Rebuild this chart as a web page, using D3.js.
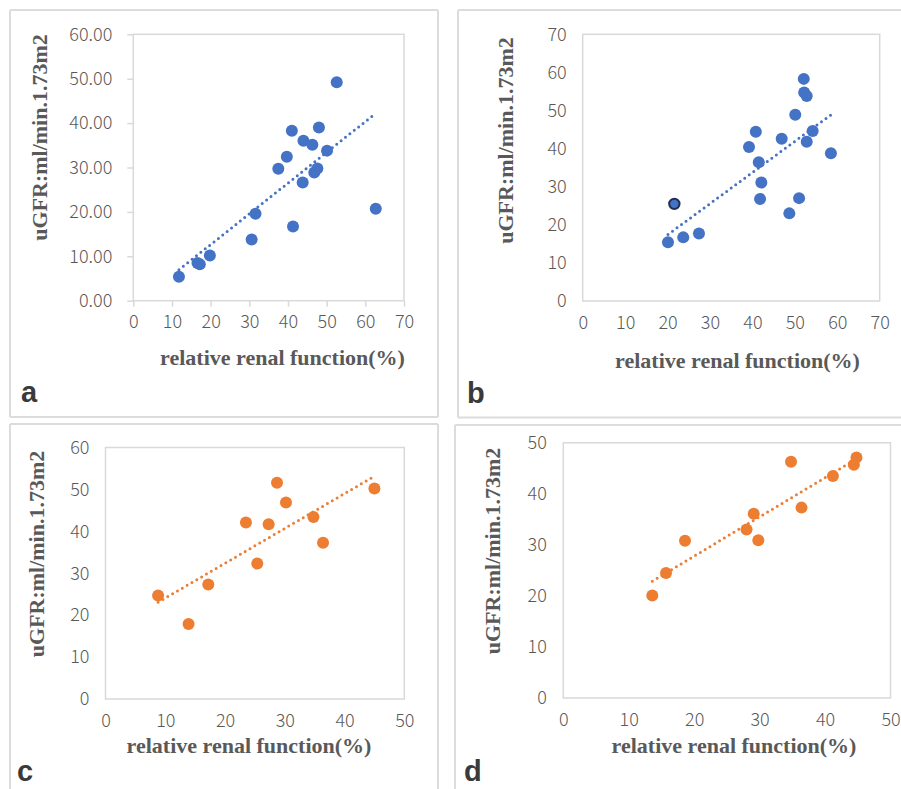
<!DOCTYPE html>
<html>
<head>
<meta charset="utf-8">
<script src="https://cdn.jsdelivr.net/npm/d3@7"></script>
<style>
  html, body { margin: 0; padding: 0; background: #fff; }
  svg { display: block; }
  .tick text { font-family: "Noto Sans CJK SC", "Noto Sans", sans-serif; font-weight: 300; fill: #595959; }
  .title { font-family: "Liberation Serif", "Times New Roman", serif; font-weight: bold; fill: #595959; font-size: 22px; }
  .letter { font-family: "Liberation Sans", Arial, sans-serif; font-weight: bold; fill: #3a3a3a; font-size: 29px; }
</style>
</head>
<body>
<svg id="fig"></svg>
<script>
const W = 901, H = 789;

// panel a (blue)
const aX = [11.8, 16.6, 17.2, 19.8, 30.6, 31.6, 41.3, 37.5, 39.7, 41.0, 43.8, 44.0, 46.3, 46.8, 47.6, 48.0, 50.1, 52.6, 62.7];
const aY = [5.4, 8.5, 8.2, 10.2, 13.8, 19.6, 16.7, 29.7, 32.4, 38.3, 26.6, 36.0, 35.1, 28.9, 29.8, 39.0, 33.8, 49.2, 20.7];
// panel b (blue), index 1 is the outlined point
const bX = [20.1, 21.6, 23.7, 27.4, 39.2, 40.8, 41.5, 42.1, 41.8, 46.9, 48.7, 50.1, 51.0, 52.1, 52.2, 52.8, 52.8, 54.2, 58.5];
const bY = [15.4, 25.5, 16.7, 17.7, 40.4, 44.4, 36.4, 31.1, 26.8, 42.6, 23.0, 48.9, 27.0, 58.3, 54.7, 53.8, 41.8, 44.6, 38.8];
const bMarked = [1];
// panel c (orange)
const cX = [8.8, 13.9, 17.2, 23.5, 25.4, 27.3, 28.7, 30.2, 34.8, 36.4, 45.0];
const cY = [24.7, 17.9, 27.3, 42.1, 32.3, 41.7, 51.6, 46.9, 43.4, 37.3, 50.2];
// panel d (orange)
const dX = [13.6, 15.7, 18.6, 28.0, 29.1, 29.8, 34.8, 36.4, 41.2, 44.4, 44.8];
const dY = [20.1, 24.5, 30.8, 33.0, 36.1, 30.9, 46.3, 37.3, 43.5, 45.7, 47.1];

const aXTicks = [0, 10, 20, 30, 40, 50, 60, 70];
const aYTicks = [0, 10, 20, 30, 40, 50, 60];
const bXTicks = [0, 10, 20, 30, 40, 50, 60, 70];
const bYTicks = [0, 10, 20, 30, 40, 50, 60, 70];
const cXTicks = [0, 10, 20, 30, 40, 50];
const cYTicks = [0, 10, 20, 30, 40, 50, 60];
const dXTicks = [0, 10, 20, 30, 40, 50];
const dYTicks = [0, 10, 20, 30, 40, 50];

const xTitle = "relative renal function(%)";
const yTitle = "uGFR:ml/min.1.73m2";
const BLUE = "#4472c4", ORANGE = "#ed7d31";

const panels = [
  { letter: "a", xs: aX, ys: aY, xTicks: aXTicks, yTicks: aYTicks, yFmt: d3.format(".2f"), color: BLUE,
    plot: { l: 133.3, r: 404, t: 34.3, b: 300.7 }, tick: 6, yGap: 21,
    yT: { x: 46.5, y: 137.5 }, xT: { x: 282.5, y: 365 }, let: { x: 21, y: 402 } },
  { letter: "b", xs: bX, ys: bY, xTicks: bXTicks, yTicks: bYTicks, yFmt: d3.format("d"), color: BLUE, marked: bMarked,
    plot: { l: 582.7, r: 879.7, t: 34.3, b: 301 }, tick: 0, yGap: 16,
    yT: { x: 513, y: 140.5 }, xT: { x: 737.5, y: 368 }, let: { x: 467, y: 403 } },
  { letter: "c", xs: cX, ys: cY, xTicks: cXTicks, yTicks: cYTicks, yFmt: d3.format("d"), color: ORANGE,
    plot: { l: 105.5, r: 404.3, t: 447.5, b: 699 }, tick: 0, yGap: 16,
    yT: { x: 43.5, y: 554 }, xT: { x: 249, y: 753 }, let: { x: 17, y: 781 } },
  { letter: "d", xs: dX, ys: dY, xTicks: dXTicks, yTicks: dYTicks, yFmt: d3.format("d"), color: ORANGE,
    plot: { l: 563.3, r: 890.5, t: 442.8, b: 698 }, tick: 0, yGap: 16.5,
    yT: { x: 499.5, y: 551 }, xT: { x: 734, y: 753 }, let: { x: 464, y: 781 } }
];

const svg = d3.select("#fig").attr("width", W).attr("height", H).attr("viewBox", [0, 0, W, H]);

// outer frames of the four image tiles
const frameLines = [
  [10, 10, 438, 10], [10, 10, 10, 417], [438, 10, 438, 417], [10, 417, 438, 417],
  [458, 10, 901, 10], [458, 10, 458, 417.5], [458, 417.5, 901, 417.5],
  [10, 424, 438, 424], [10, 424, 10, 789], [438, 424, 438, 789],
  [455, 425, 901, 425], [455, 425, 455, 789]
];
svg.append("g")
  .attr("stroke", "#dcdcdc")
  .attr("stroke-width", 2)
  .selectAll("line")
  .data(frameLines)
  .join("line")
  .attr("x1", (d) => d[0]).attr("y1", (d) => d[1])
  .attr("x2", (d) => d[2]).attr("y2", (d) => d[3]);

function linFit(xs, ys) {
  const n = xs.length;
  const mx = d3.mean(xs), my = d3.mean(ys);
  let sxy = 0, sxx = 0;
  for (let i = 0; i < n; i++) {
    sxy += (xs[i] - mx) * (ys[i] - my);
    sxx += (xs[i] - mx) ** 2;
  }
  const k = sxy / sxx;
  return (x) => my + k * (x - mx);
}

panels.forEach((p) => {
  const g = svg.append("g");
  const x = d3.scaleLinear().domain(d3.extent(p.xTicks)).range([p.plot.l, p.plot.r]);
  const y = d3.scaleLinear().domain(d3.extent(p.yTicks)).range([p.plot.b, p.plot.t]);

  // plot area border
  g.append("rect")
    .attr("x", p.plot.l).attr("y", p.plot.t)
    .attr("width", p.plot.r - p.plot.l).attr("height", p.plot.b - p.plot.t)
    .attr("fill", "none").attr("stroke", "#d9d9d9").attr("stroke-width", 1.5);

  const xAxis = g.append("g")
    .attr("transform", `translate(0,${p.plot.b})`)
    .call(d3.axisBottom(x).tickValues(p.xTicks).tickSize(p.tick).tickSizeOuter(0).tickPadding(21 - p.tick - 6));
  const yAxis = g.append("g")
    .attr("transform", `translate(${p.plot.l},0)`)
    .call(d3.axisLeft(y).tickValues(p.yTicks).tickFormat(p.yFmt).tickSize(p.tick).tickSizeOuter(0).tickPadding(p.yGap - p.tick));
  [xAxis, yAxis].forEach((ax) => {
    ax.select(".domain").remove();
    ax.selectAll(".tick line").attr("stroke", "#d9d9d9").attr("stroke-width", 1.5);
    ax.selectAll(".tick text").attr("font-size", 18);
  });
  xAxis.selectAll(".tick text").attr("dy", "0.71em");

  // dotted linear trend line
  const f = linFit(p.xs, p.ys);
  const [x0, x1] = d3.extent(p.xs);
  g.append("line")
    .attr("x1", x(x0)).attr("y1", y(f(x0)))
    .attr("x2", x(x1)).attr("y2", y(f(x1)))
    .attr("stroke", p.color)
    .attr("stroke-width", 3)
    .attr("stroke-linecap", "round")
    .attr("stroke-dasharray", "0 5.6");

  const pts = p.xs.map((v, i) => ({ x: v, y: p.ys[i], m: (p.marked || []).includes(i) }));
  g.append("g")
    .selectAll("circle")
    .data(pts)
    .join("circle")
    .attr("cx", (d) => x(d.x))
    .attr("cy", (d) => y(d.y))
    .attr("r", (d) => (d.m ? 5.2 : 6))
    .attr("fill", p.color)
    .attr("stroke", (d) => (d.m ? "#1f2f55" : "none"))
    .attr("stroke-width", (d) => (d.m ? 2 : 0));

  g.append("text")
    .attr("class", "title")
    .attr("text-anchor", "middle")
    .attr("transform", `translate(${p.yT.x},${p.yT.y}) rotate(-90)`)
    .text(yTitle);
  g.append("text")
    .attr("class", "title")
    .attr("text-anchor", "middle")
    .attr("x", p.xT.x).attr("y", p.xT.y)
    .text(xTitle);
  g.append("text")
    .attr("class", "letter")
    .attr("x", p.let.x).attr("y", p.let.y)
    .text(p.letter);
});
</script>
</body>
</html>
